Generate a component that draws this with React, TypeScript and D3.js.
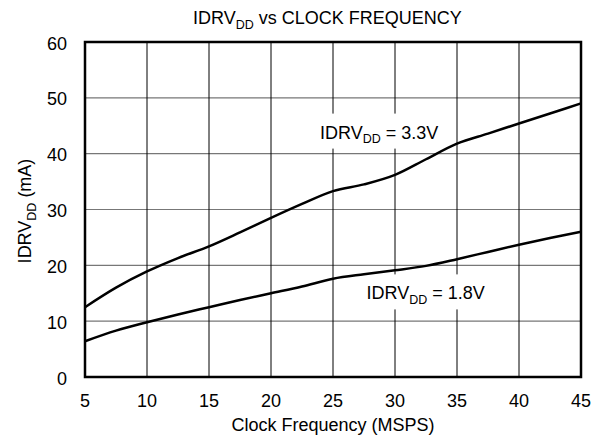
import React from "react";
import * as d3 from "d3";

const freqs = [5, 7.5, 10, 12.5, 15, 17.5, 20, 22.5, 25, 27.5, 30, 32.5, 35, 37.5, 40, 42.5, 45];
const idrv33 = [12.5, 16.0, 18.9, 21.3, 23.4, 25.9, 28.5, 31.0, 33.3, 34.5, 36.2, 39.0, 41.8, 43.6, 45.4, 47.2, 49.0];
const idrv18 = [6.4, 8.3, 9.8, 11.2, 12.5, 13.8, 15.0, 16.2, 17.6, 18.4, 19.1, 19.9, 21.1, 22.4, 23.7, 24.9, 26.0];
const xTicks = [5, 10, 15, 20, 25, 30, 35, 40, 45];
const yTicks = [0, 10, 20, 30, 40, 50, 60];

const W = 605;
const H = 445;
const left = 85;
const right = 581;
const top = 42;
const bottom = 377;
const FONT = "'Liberation Sans', Arial, sans-serif";
const FS = 18;
const SUB = 12.5;

export default function App() {
  const x = d3.scaleLinear().domain([5, 45]).range([left, right]);
  const y = d3.scaleLinear().domain([0, 60]).range([bottom, top]);
  const line = d3
    .line<number>()
    .x((_, i) => x(freqs[i]))
    .y((d) => y(d))
    .curve(d3.curveMonotoneX);

  const Label = ({ tx, ty, volt }: { tx: number; ty: number; volt: string }) => (
    <g>
      <rect x={tx - 7} y={ty - 25} width={133} height={35} fill="#fff" />
      <text x={tx} y={ty} fontSize={FS} fontFamily={FONT} fill="#000">
        IDRV
        <tspan fontSize={SUB} dy={4.5}>DD</tspan>
        <tspan dy={-4.5}>{` = ${volt}`}</tspan>
      </text>
    </g>
  );

  return (
    <svg
      width={W}
      height={H}
      style={{ position: "absolute", left: 0, top: 0, background: "#fff" }}
    >
      <rect x={0} y={0} width={W} height={H} fill="#fff" />
      {yTicks.slice(1, -1).map((t) => (
        <line key={"h" + t} x1={left} x2={right} y1={y(t)} y2={y(t)} stroke="#777" strokeWidth={1.2} />
      ))}
      {xTicks.slice(1, -1).map((t) => (
        <line key={"v" + t} x1={x(t)} x2={x(t)} y1={top} y2={bottom} stroke="#000" strokeWidth={1} />
      ))}
      <Label tx={x(23.95)} ty={y(42.7)} volt="3.3V" />
      <Label tx={x(27.7)} ty={y(13.9)} volt="1.8V" />
      <path d={line(idrv33) || ""} fill="none" stroke="#000" strokeWidth={2.5} />
      <path d={line(idrv18) || ""} fill="none" stroke="#000" strokeWidth={2.5} />
      <rect x={left} y={top} width={right - left} height={bottom - top} fill="none" stroke="#000" strokeWidth={2.5} />
      {yTicks.map((t) => (
        <text key={"yt" + t} x={67} y={y(t) + 7.5} textAnchor="end" fontSize={FS} fontFamily={FONT} fill="#000">
          {t}
        </text>
      ))}
      {xTicks.map((t) => (
        <text key={"xt" + t} x={x(t)} y={407} textAnchor="middle" fontSize={FS} fontFamily={FONT} fill="#000">
          {t}
        </text>
      ))}
      <text x={(left + right) / 2} y={431} textAnchor="middle" fontSize={FS} fontFamily={FONT} fill="#000">
        Clock Frequency (MSPS)
      </text>
      <text x={193} y={24} fontSize={FS} fontFamily={FONT} fill="#000">
        IDRV
        <tspan fontSize={SUB} dy={4.5}>DD</tspan>
        <tspan dy={-4.5}> vs CLOCK FREQUENCY</tspan>
      </text>
      <text
        transform={`translate(31, 211) rotate(-90)`}
        textAnchor="middle"
        fontSize={FS}
        fontFamily={FONT}
        fill="#000"
      >
        IDRV
        <tspan fontSize={SUB} dy={4.5}>DD</tspan>
        <tspan dy={-4.5}> (mA)</tspan>
      </text>
    </svg>
  );
}
